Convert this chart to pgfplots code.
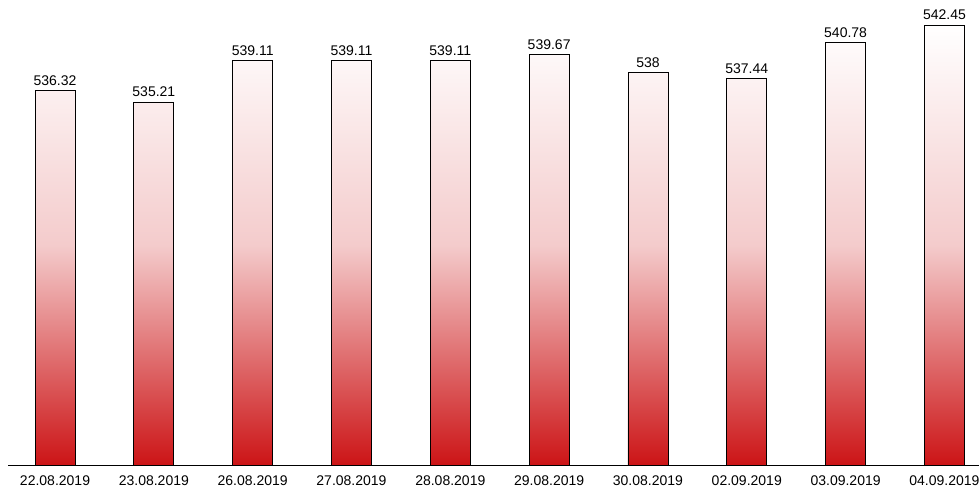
\documentclass[border=0pt]{standalone}
\usepackage{pgfplots}
\pgfplotsset{compat=1.18}
\usepackage{fontspec}
\setmainfont{Liberation Sans}
\definecolor{barred}{RGB}{204,20,22}
\begin{document}
\begin{tikzpicture}
\begin{axis}[name=ax,
  scale only axis, width=728pt, height=349pt,
  ybar, bar width=30pt,
  ymin=501, ymax=544.8,
  xmin=-0.476, xmax=9.35,
  axis y line=none, axis x line*=bottom,
  x axis line style={-, black, line width=0.6pt},
  xtick=data,
  xticklabels={22.08.2019,23.08.2019,26.08.2019,27.08.2019,28.08.2019,29.08.2019,30.08.2019,02.09.2019,03.09.2019,04.09.2019},
  xtick style={draw=none},
  tick label style={font=\fontsize{10.5}{12}\selectfont},
  nodes near coords,
  nodes near coords style={font=\fontsize{10.5}{12}\selectfont, /pgf/number format/precision=2, /pgf/number format/assume math mode=true},
  /pgf/number format/assume math mode=true,
  clip=false,
]
\addplot[draw=black, line width=0.6pt, top color=white, bottom color=barred, middle color={barred!22!white}] coordinates {
(0,536.32) (1,535.21) (2,539.11) (3,539.11) (4,539.11) (5,539.67) (6,538) (7,537.44) (8,540.78) (9,542.45)};
\end{axis}
\pgfresetboundingbox
\useasboundingbox ([xshift=-6pt,yshift=-24pt]ax.south west) rectangle (ax.north east);
\end{tikzpicture}
\end{document}
